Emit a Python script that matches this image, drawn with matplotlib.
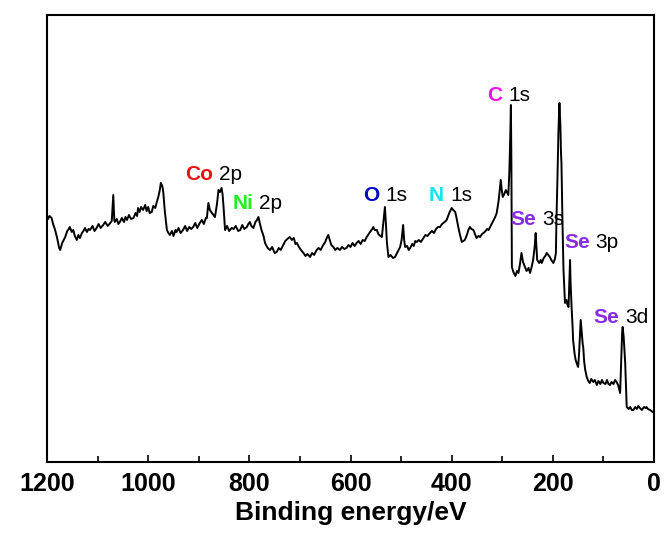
# XPS survey spectrum with labelled core-level peaks

import matplotlib
matplotlib.use("Agg")
import matplotlib.pyplot as plt
from matplotlib.ticker import MultipleLocator

plt.rcParams["font.family"] = ["Liberation Sans", "DejaVu Sans"]

# Binding energy (eV) and intensity (a.u.)
energy = [
    1200, 1198, 1195, 1191, 1188, 1184, 1180, 1176, 1174, 1170,
    1167, 1164, 1160, 1157, 1155, 1151, 1148, 1145, 1141, 1138,
    1135, 1131, 1128, 1125, 1121, 1118, 1115, 1110, 1106, 1102,
    1098, 1094, 1089, 1085, 1080, 1075, 1072, 1069, 1067, 1066,
    1062, 1059, 1056, 1052, 1048, 1045, 1042, 1038, 1034, 1029,
    1025, 1022, 1020, 1017, 1014, 1010, 1006, 1003, 1000, 997,
    993, 990, 986, 983, 980, 977, 975, 972, 970, 967,
    963, 960, 957, 953, 950, 946, 944, 940, 936, 931,
    927, 923, 919, 915, 911, 907, 903, 898, 894, 890,
    886, 884, 881, 878, 874, 871, 868, 864, 861, 858,
    855, 853, 851, 849, 848, 844, 840, 835, 831, 827,
    822, 818, 814, 810, 805, 802, 799, 796, 792, 788,
    785, 782, 779, 776, 772, 769, 765, 762, 759, 755,
    750, 746, 742, 738, 733, 729, 725, 720, 716, 712,
    709, 706, 702, 698, 693, 689, 685, 680, 676, 672,
    667, 663, 659, 654, 650, 647, 644, 641, 638, 634,
    630, 626, 621, 617, 612, 608, 604, 600, 596, 592,
    588, 584, 580, 576, 572, 568, 564, 560, 557, 555,
    552, 548, 545, 541, 538, 535, 532, 530, 528, 526,
    525, 521, 516, 512, 508, 505, 502, 499, 496, 494,
    492, 488, 485, 482, 478, 475, 472, 469, 465, 461,
    456, 452, 448, 443, 439, 435, 431, 427, 423, 419,
    414, 410, 407, 404, 400, 397, 393, 390, 387, 384,
    380, 377, 374, 370, 367, 364, 361, 357, 354, 351,
    347, 344, 340, 337, 333, 330, 327, 324, 320, 317,
    314, 311, 307, 305, 303, 301, 299, 296, 293, 291,
    288, 286, 284, 283, 282, 281, 278, 274, 271, 268,
    265, 262, 259, 255, 252, 248, 245, 242, 239, 236,
    234, 232, 231, 227, 224, 222, 218, 215, 212, 209,
    206, 203, 199, 196, 194, 193, 191, 189, 187, 185,
    184, 183, 181, 179, 177, 176, 173, 171, 169, 168,
    166, 165, 163, 161, 160, 157, 155, 153, 151, 150,
    148, 146, 145, 143, 141, 140, 138, 136, 133, 130,
    127, 124, 120, 117, 113, 110, 106, 103, 100, 96,
    93, 90, 87, 84, 80, 77, 74, 71, 69, 67,
    65, 63, 62, 60, 57, 55, 54, 50, 47, 44,
    41, 37, 34, 31, 28, 24, 20, 17, 15, 12,
    8, 5, 3, 1, 0,
]
intensity = [
    247, 243, 246, 244, 238, 232, 224, 214, 212, 219,
    222, 225, 231, 233, 235, 230, 232, 226, 222, 227,
    224, 229, 231, 234, 230, 233, 232, 236, 231, 234,
    238, 234, 237, 240, 236, 239, 241, 267, 242, 240,
    243, 238, 240, 244, 240, 245, 242, 247, 243, 244,
    249, 246, 254, 250, 255, 252, 257, 251, 255, 249,
    250, 256, 254, 260, 265, 272, 279, 276, 269, 250,
    232, 229, 227, 231, 226, 232, 230, 234, 229, 232,
    236, 231, 235, 233, 235, 239, 234, 239, 242, 238,
    244, 244, 259, 252, 249, 247, 245, 258, 272, 270,
    274, 268, 255, 240, 232, 236, 231, 234, 233, 236,
    231, 232, 237, 233, 235, 238, 240, 236, 234, 240,
    242, 245, 238, 232, 226, 219, 215, 213, 212, 215,
    209, 210, 214, 212, 217, 221, 223, 225, 222, 224,
    218, 219, 215, 212, 209, 206, 208, 205, 209, 207,
    212, 214, 212, 217, 220, 224, 227, 222, 217, 215,
    212, 214, 212, 215, 213, 214, 217, 215, 219, 216,
    219, 221, 218, 222, 221, 225, 228, 231, 233, 235,
    232, 232, 228, 226, 225, 240, 255, 238, 219, 210,
    205, 207, 204, 205, 209, 212, 215, 222, 237, 222,
    215, 216, 212, 214, 218, 216, 221, 220, 222, 220,
    224, 227, 226, 229, 231, 229, 233, 235, 235, 238,
    240, 242, 246, 250, 254, 252, 250, 243, 235, 228,
    220, 221, 222, 227, 232, 235, 233, 232, 228, 224,
    226, 225, 228, 229, 231, 233, 232, 235, 239, 242,
    245, 249, 262, 272, 282, 272, 265, 268, 272, 270,
    267, 290, 330, 357, 300, 195, 190, 186, 191, 189,
    198, 209, 200, 195, 191, 194, 189, 195, 202, 215,
    229, 212, 202, 199, 202, 199, 204, 206, 209, 207,
    205, 202, 199, 203, 209, 240, 282, 330, 359, 335,
    310, 299, 240, 192, 170, 159, 162, 157, 155, 170,
    202, 180, 155, 135, 122, 108, 102, 99, 96, 95,
    110, 130, 142, 130, 118, 115, 100, 92, 85, 81,
    79, 83, 80, 82, 77, 81, 78, 82, 79, 78,
    82, 78, 77, 80, 78, 82, 80, 77, 73, 69,
    100, 130, 135, 125, 99, 70, 55, 53, 55, 52,
    52, 55, 53, 56, 54, 52, 55, 54, 55, 53,
    52, 51, 50, 50, 49,
]

# Peak annotations: element, orbital, label position (eV, a.u.), element colour
elements = ["Co", "Ni", "O", "N", "C", "Se", "Se", "Se"]
orbitals = ["2p", "2p", "1s", "1s", "1s", "3s", "3p", "3d"]
label_e = [927, 834, 575, 445, 330, 283, 178, 119]
label_i = [287, 258, 266, 266, 366, 242, 219, 144]
colors = ["#ee1111", "#22ee22", "#0000cc", "#11e6f0", "#ee11ee",
          "#8a2be2", "#8a2be2", "#8a2be2"]


def main() -> None:
    fig = plt.figure(figsize=(6.65, 5.45), dpi=100)
    ax = fig.add_axes([0.0707, 0.1523, 0.9128, 0.8202])

    ax.plot(energy, intensity, color="black", linewidth=1.4)

    ax.set_xlim(1200, 0)
    ax.set_ylim(0, 447)

    fig.canvas.draw()
    inv = ax.transData.inverted()
    for el, orb, xe, yi, c in zip(elements, orbitals, label_e, label_i, colors):
        t = ax.text(xe, yi, el, color=c, fontsize=15, fontweight="bold",
                    ha="left", va="center")
        bb = t.get_window_extent(renderer=fig.canvas.get_renderer())
        x_orb, _ = inv.transform((bb.x1 + 6, bb.y0))
        ax.text(x_orb, yi, orb, color="black", fontsize=15,
                ha="left", va="center")

    ax.xaxis.set_major_locator(MultipleLocator(200))
    ax.xaxis.set_minor_locator(MultipleLocator(100))
    ax.tick_params(axis="x", which="both", direction="in", top=False,
                   labelsize=18, pad=7)
    ax.tick_params(axis="x", which="major", length=5, width=1.2)
    ax.tick_params(axis="x", which="minor", length=4, width=1.2)
    ax.set_yticks([])
    for lbl in ax.get_xticklabels():
        lbl.set_fontweight("bold")
    for s in ax.spines.values():
        s.set_linewidth(1.5)

    ax.set_xlabel("Binding energy/eV", fontsize=19, fontweight="bold",
                  labelpad=4)

    fig.savefig("out.png", dpi=100)
    plt.close(fig)


if __name__ == "__main__":
    main()
